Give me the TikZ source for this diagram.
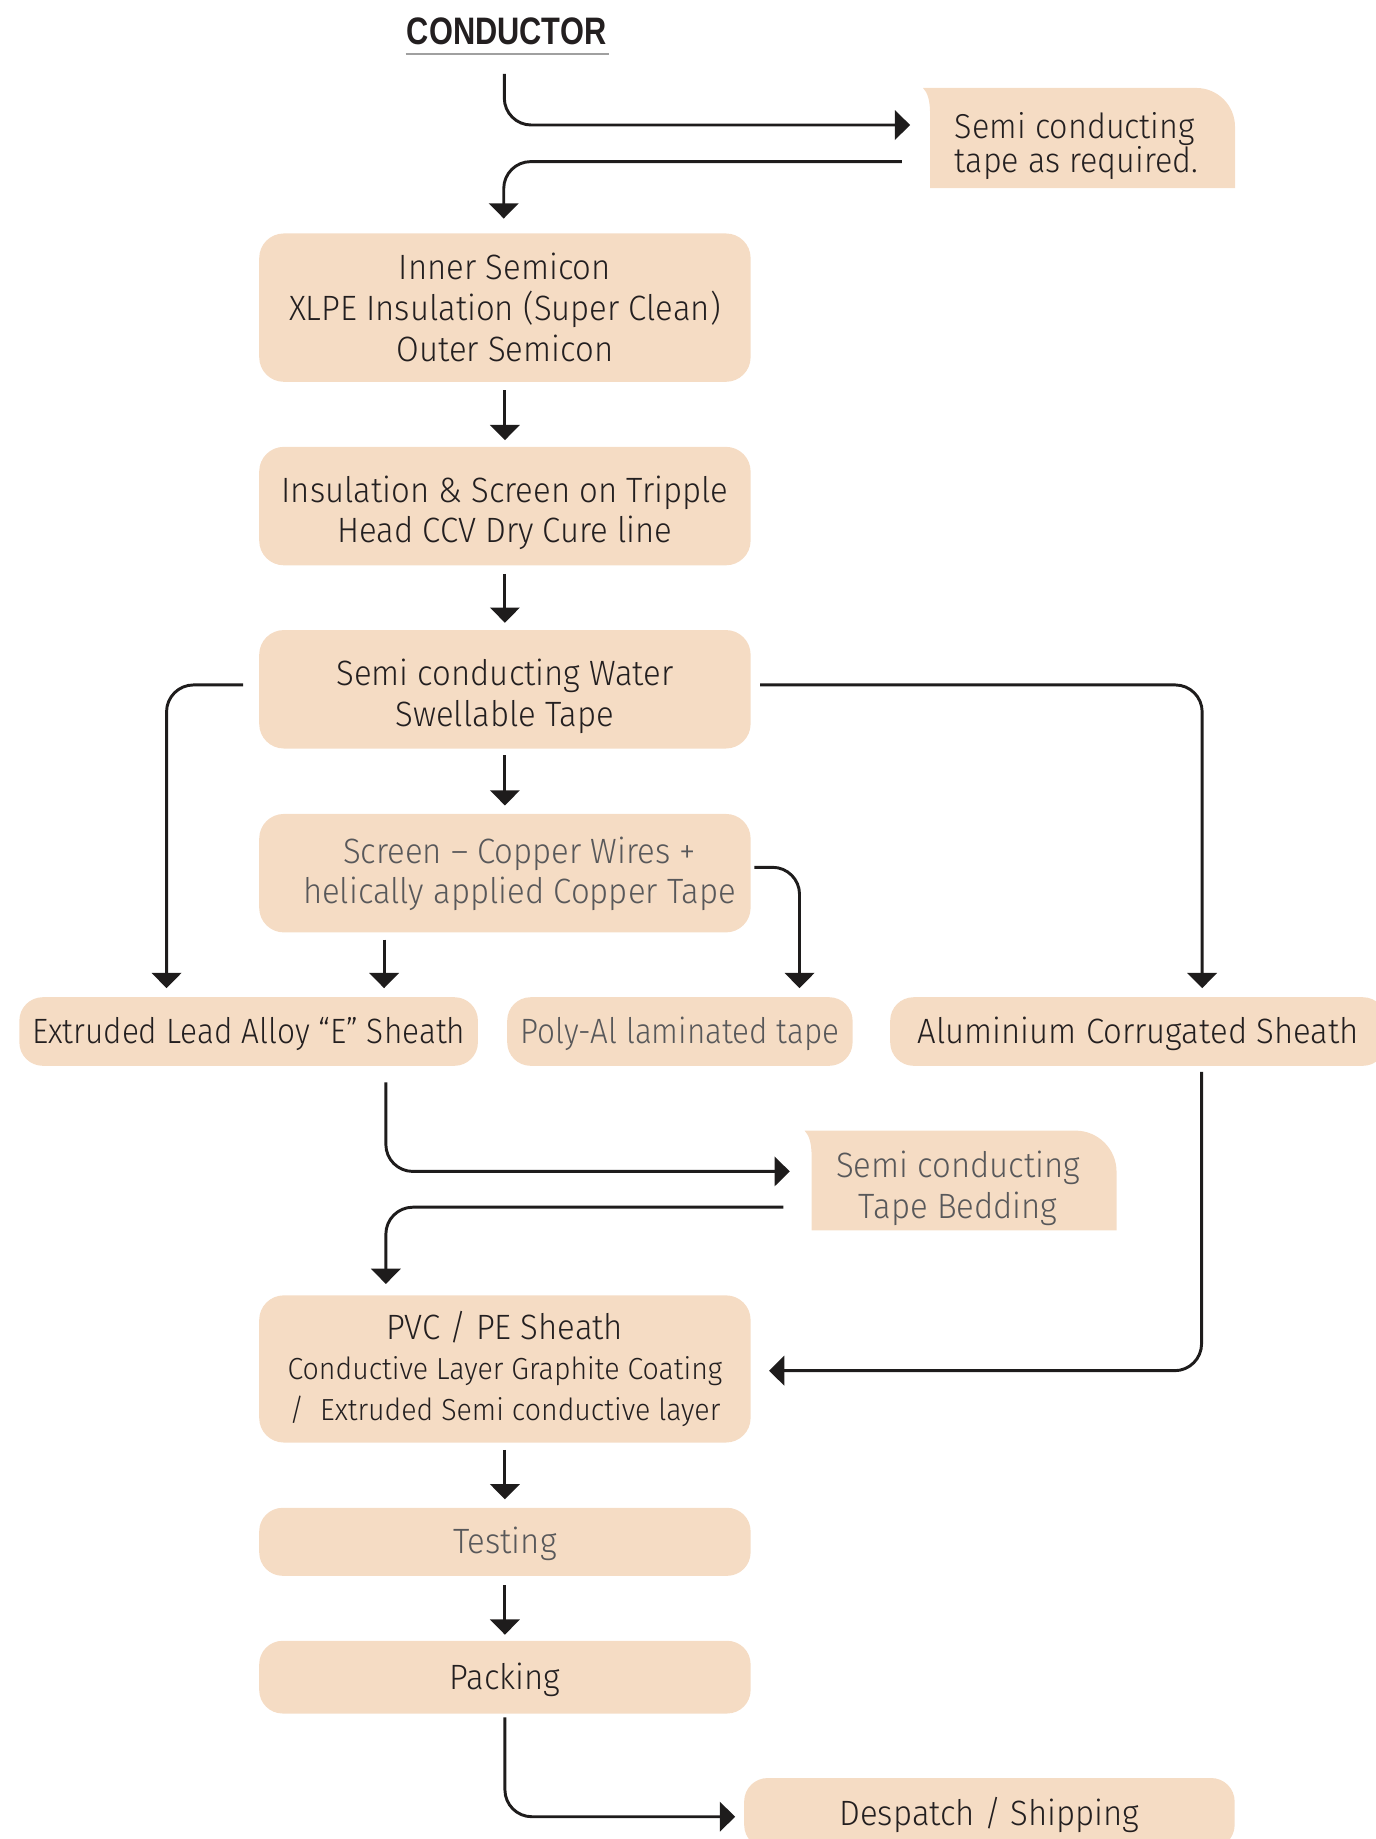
\documentclass[tikz,border=0pt]{standalone}
\usepackage{fontspec}
\usepackage{graphicx}
\usetikzlibrary{arrows.meta,calc}
\newfontfamily\lt{Fira Sans Light}[FakeStretch=0.935]
\newfontfamily\cb{Liberation Sans}
\newcommand\fm{\lt\fontsize{30}{34.8}\selectfont}
\newcommand\fsd{\lt\fontsize{29.5}{29.3}\selectfont}
\newcommand\fsm{\lt\fontsize{26}{34}\selectfont}
\definecolor{peach}{HTML}{F5DCC4}
\definecolor{ink}{HTML}{1E1C1C}
\definecolor{txt}{HTML}{231F20}
\definecolor{gtxt}{HTML}{58585A}
\definecolor{uline}{HTML}{A0A0A0}
\begin{document}
\begin{tikzpicture}[x=1pt,y=-1pt,
 box/.style={fill=peach, rounded corners=21pt, minimum width=419pt, inner sep=0pt, text=txt, font=\fm, align=center},
 pill/.style={box, rounded corners=20pt, minimum height=58.5pt, text height=20.7pt, text depth=0pt},
 arr/.style={draw=ink, line width=2.5pt, rounded corners=23pt, -{Triangle[width=25pt,length=13pt]}},
 plain/.style={inner sep=0pt, align=center}
]
\useasboundingbox (0,0) rectangle (1173.2,1568);

% title
\node[plain, text=txt] (cond) at (432,27) {\resizebox{170pt}{22.8pt}{\cb\bfseries CONDUCTOR}};
\draw[uline, line width=1.6pt] ($(cond.south west)+(-1,7)$) -- ($(cond.south east)+(2,7)$);

% main column
\node[box, minimum height=126.5pt] (b1) at (430.5,262.3) {Inner Semicon\\XLPE Insulation (Super Clean)\\Outer Semicon};
\node[box, minimum height=101pt] (b2) at (430.5,431.5) {};
\node[plain, text=txt, font=\fm] (b2t) at (430.5,437.3) {Insulation \& Screen on Tripple\\Head CCV Dry Cure line};
\node[box, minimum height=101pt] (b3) at (430.5,587.7) {};
\node[plain, text=txt, font=\fm] (b3t) at (430.5,593.7) {Semi conducting Water\\Swellable Tape};
\node[box, minimum height=101pt] (b4) at (430.5,744.5) {};
\node[plain, text=gtxt, font=\fm] (b4t) at (443,745) {Screen – Copper Wires +\\helically applied Copper Tape};

% row
\node[pill, minimum width=391pt] (lead) at (212,879.5) {\scalebox{0.96}[1]{Extruded Lead Alloy “E” Sheath}};
\node[pill, minimum width=294.5pt, text=gtxt] (poly) at (579.7,879.5) {\scalebox{0.955}[1]{Poly-Al laminated tape}};
\node[pill, minimum width=423pt] (alu) at (970.5,879.5) {Aluminium Corrugated Sheath};

\node[box, minimum height=125.5pt] (pvc) at (430.5,1167.2) {PVC / PE Sheath\\{\fsm Conductive Layer Graphite Coating}\\{\fsm /\ \ Extruded Semi conductive layer}};
\node[pill, minimum height=58pt, text=gtxt] (test) at (430.5,1314.6) {Testing};
\node[pill, minimum height=62pt] (pack) at (430.5,1430) {Packing};
\node[pill, minimum width=418.2pt, minimum height=60pt] (desp) at (843.6,1546) {Despatch / Shipping};

% side boxes
\fill[peach] (787,75) .. controls (791,79) and (793,86) .. (793,97) -- (793,160.5) -- (1053,160.5) -- (1053,108) .. controls (1053,89.8) and (1038.2,75) .. (1020,75) -- cycle;
\node[plain, anchor=west, align=left, font=\fsd, text=txt] (s1) at (814,124.5) {Semi conducting\\tape as required.};
\fill[peach] (686,964) .. controls (690,968) and (692,975) .. (692,986) -- (692,1049) -- (952,1049) -- (952,999) .. controls (952,979.7) and (936.3,964) .. (917,964) -- cycle;
\node[plain, font=\fm, text=gtxt] (s2) at (817,1013) {Semi conducting\\Tape Bedding};

% connector ends
\coordinate (c1s) at (430,63);
\coordinate (s1in) at (776,106.6);
\coordinate (s1out) at (769,137.8);
\coordinate (s2in) at (673.4,998.8);
\coordinate (s2out) at (668,1029.3);

% connectors
\draw[arr] (c1s) |- (s1in);
\draw[arr] (s1out) -| ($(b1.north)+(-1,-12.5)$);
\draw[arr] ($(b1.south)+(0,7)$) -- ($(b2.north)+(0,-5.5)$);
\draw[arr] ($(b2.south)+(0,7)$) -- ($(b3.north)+(0,-6)$);
\draw[arr] ($(b3.south)+(0,5.5)$) -- ($(b4.north)+(0,-7)$);
\draw[arr] ($(b3.west)+(-13.5,-3.7)$) -| ($(lead.north)+(-70,-7.5)$);
\draw[arr] ($(b3.east)+(8,-3.7)$) -| ($(alu.north)+(54.5,-7.5)$);
\draw[arr] ($(b4.east)+(3,-5)$) -| ($(poly.north)+(102,-7.5)$);
\draw[arr] ($(b4.south)+(-103,6)$) -- ($(lead.north)+(115.5,-7.5)$);
\draw[arr] ($(lead.south)+(117,14)$) |- (s2in);
\draw[arr] (s2out) -| ($(pvc.north)+(-101.5,-9.5)$);
\draw[arr] ($(alu.south)+(54,5)$) |- ($(pvc.east)+(15.5,1.5)$);
\draw[arr] ($(pvc.south)+(0,6)$) -- ($(test.north)+(0,-7)$);
\draw[arr] ($(test.south)+(0,8)$) -- ($(pack.north)+(0,-5)$);
\draw[arr] ($(pack.south)+(0,3)$) |- ($(desp.west)+(-7.5,3)$);
\end{tikzpicture}
\end{document}
